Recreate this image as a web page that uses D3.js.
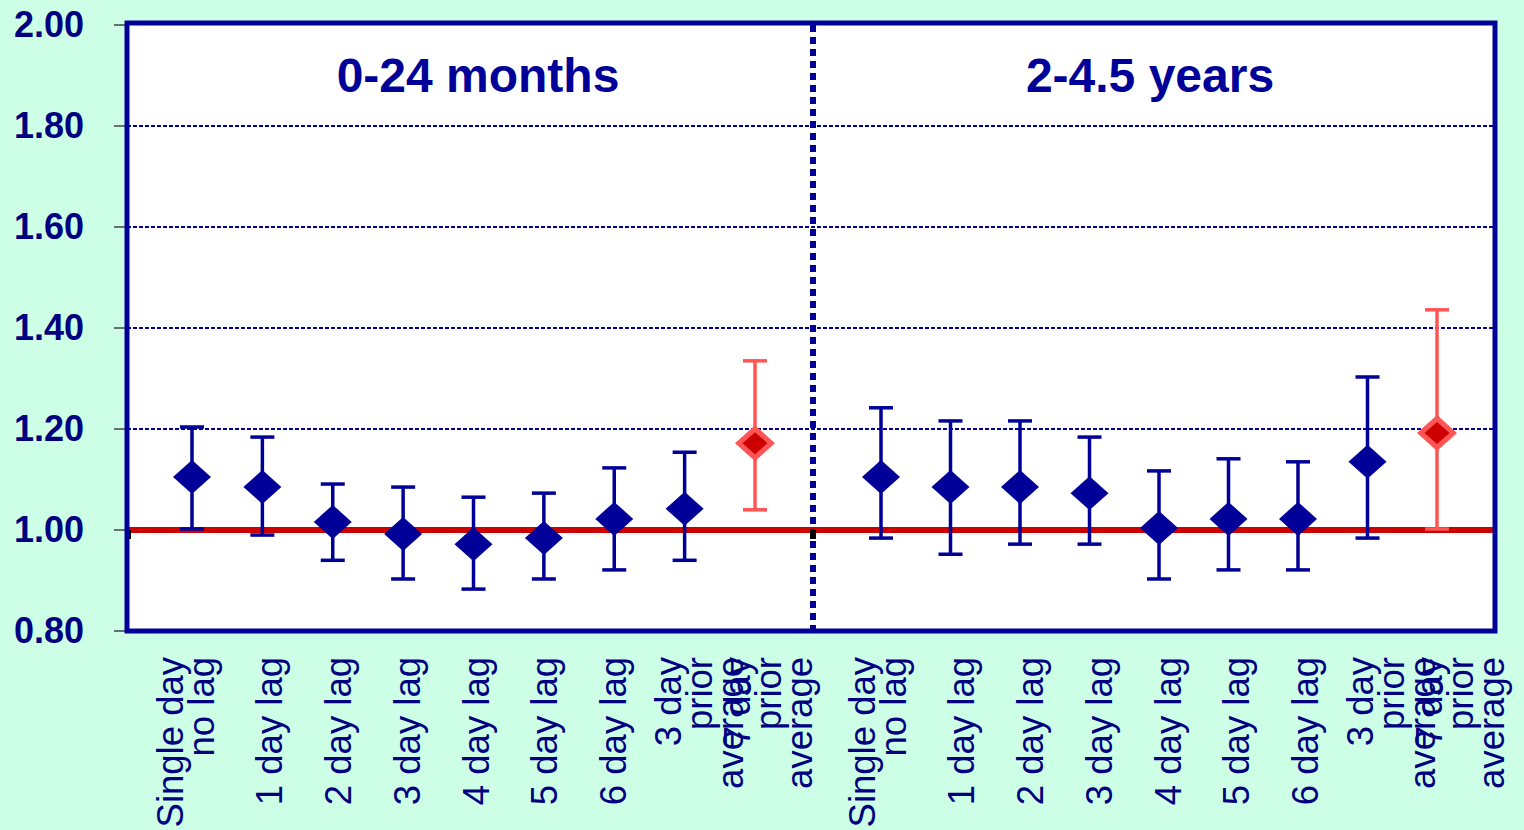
<!DOCTYPE html>
<html lang="en">
<head>
    <meta charset="UTF-8">
    <title>Lag structure - odds ratios</title>
    <script src="https://d3js.org/d3.v7.min.js"></script>
    <style>
        html, body {
            margin: 0;
            padding: 0;
            background: #ccffe5;
            font-family: Arial, "Liberation Sans", sans-serif;
        }
        svg { display: block; }
    </style>
</head>
<body>
<div id="chart"></div>
<script>
// Categories (lines of each x label)
const categories = [
    ["Single day", "no lag"],
    ["1 day lag"],
    ["2 day lag"],
    ["3 day lag"],
    ["4 day lag"],
    ["5 day lag"],
    ["6 day lag"],
    ["3 day", "prior", "average"],
    ["7 day", "prior", "average"]
];
const groups = ["0-24 months", "2-4.5 years"];

// 0-24 months
const estYoung  = [1.105, 1.085, 1.016, 0.992, 0.972, 0.984, 1.022, 1.042, 1.172];
const lowYoung  = [1.002, 0.990, 0.940, 0.903, 0.883, 0.903, 0.921, 0.940, 1.040];
const highYoung = [1.204, 1.184, 1.091, 1.085, 1.065, 1.073, 1.123, 1.154, 1.335];

// 2-4.5 years
const estOld  = [1.105, 1.085, 1.085, 1.073, 1.004, 1.022, 1.022, 1.135, 1.192];
const lowOld  = [0.984, 0.952, 0.972, 0.972, 0.903, 0.921, 0.921, 0.984, 1.002];
const highOld = [1.242, 1.216, 1.216, 1.184, 1.117, 1.141, 1.135, 1.303, 1.436];

const highlight = 8;        // 7 day prior average drawn in red
const yTicks = [0.8, 1.0, 1.2, 1.4, 1.6, 1.8, 2.0];
const refValue = 1.0;

const W = 1524, H = 830;
const navy = "#000099";
const textNavy = "#000080";

const svg = d3.select("#chart")
    .append("svg")
    .attr("width", W)
    .attr("height", H);

const plotLeft = 127, plotRight = 1495, sep = 813;
const y = d3.scaleLinear().domain([0.8, 2.0]).range([631, 25]);
const idx = d3.range(categories.length);

const panels = [
    { title: groups[0], est: estYoung, low: lowYoung, high: highYoung,
      x: d3.scalePoint().domain(idx).range([192, 755]),
      lx: d3.scalePoint().domain(idx).range([196, 746]),
      left: plotLeft, right: sep, tdx: 8 },
    { title: groups[1], est: estOld, low: lowOld, high: highOld,
      x: d3.scalePoint().domain(idx).range([881, 1437]),
      lx: d3.scalePoint().domain(idx).range([888, 1438]),
      left: sep, right: plotRight, tdx: -4 }
];

// plot background
svg.append("rect")
    .attr("x", plotLeft)
    .attr("y", y(2.0))
    .attr("width", plotRight - plotLeft)
    .attr("height", y(0.8) - y(2.0))
    .attr("fill", "#ffffff");

// gridlines
svg.selectAll(".grid")
    .data(yTicks.filter(d => d > 0.8 && d < 2.0 && d !== refValue))
    .enter()
    .append("line")
    .attr("x1", plotLeft)
    .attr("x2", plotRight)
    .attr("y1", d => y(d))
    .attr("y2", d => y(d))
    .attr("stroke", navy)
    .attr("stroke-width", 2)
    .attr("stroke-dasharray", "4,2");

// y axis ticks + labels
svg.selectAll(".ytick")
    .data(yTicks)
    .enter()
    .append("line")
    .attr("x1", 114)
    .attr("x2", plotLeft)
    .attr("y1", d => y(d))
    .attr("y2", d => y(d))
    .attr("stroke", "#444")
    .attr("stroke-width", 1.5);

svg.selectAll(".ylabel")
    .data(yTicks)
    .enter()
    .append("text")
    .attr("x", 84)
    .attr("y", d => y(d) + 12)
    .attr("text-anchor", "end")
    .attr("font-size", "36px")
    .attr("font-weight", "bold")
    .attr("fill", textNavy)
    .text(d3.format(".2f"));

// reference line at 1.00
svg.append("line")
    .attr("x1", plotLeft)
    .attr("x2", plotRight - 2)
    .attr("y1", y(refValue))
    .attr("y2", y(refValue))
    .attr("stroke", "#cc0000")
    .attr("stroke-width", 6);

// separator between age groups
svg.append("line")
    .attr("x1", sep)
    .attr("x2", sep)
    .attr("y1", y(2.0))
    .attr("y2", y(0.8))
    .attr("stroke", navy)
    .attr("stroke-width", 6)
    .attr("stroke-dasharray", "7,5");

// small black markers where the axis crosses
[plotLeft + 1, sep].forEach(xp => {
    svg.append("rect")
        .attr("x", xp - 3)
        .attr("y", y(refValue))
        .attr("width", 6)
        .attr("height", 9)
        .attr("fill", "#000");
});

// plot border
svg.append("rect")
    .attr("x", plotLeft)
    .attr("y", y(2.0) - 2)
    .attr("width", plotRight - plotLeft)
    .attr("height", y(0.8) - y(2.0) + 2)
    .attr("fill", "none")
    .attr("stroke", navy)
    .attr("stroke-width", 5);

const diamond = (cx, cy, hw, hh) =>
    `M${cx},${cy - hh}L${cx + hw},${cy}L${cx},${cy + hh}L${cx - hw},${cy}Z`;

panels.forEach(p => {
    const g = svg.append("g");

    // error bars
    const bars = g.selectAll(".bar")
        .data(idx)
        .enter()
        .append("g")
        .attr("stroke", i => i === highlight ? "#ff5555" : navy)
        .attr("stroke-width", 3.5);

    bars.append("line")
        .attr("x1", i => p.x(i))
        .attr("x2", i => p.x(i))
        .attr("y1", i => y(p.low[i]))
        .attr("y2", i => y(p.high[i]));
    bars.append("line")
        .attr("x1", i => p.x(i) - 12)
        .attr("x2", i => p.x(i) + 12)
        .attr("y1", i => y(p.low[i]))
        .attr("y2", i => y(p.low[i]));
    bars.append("line")
        .attr("x1", i => p.x(i) - 12)
        .attr("x2", i => p.x(i) + 12)
        .attr("y1", i => y(p.high[i]))
        .attr("y2", i => y(p.high[i]));

    // diamonds
    g.selectAll(".pt")
        .data(idx.filter(i => i !== highlight))
        .enter()
        .append("path")
        .attr("d", i => diamond(p.x(i), y(p.est[i]), 19, 17))
        .attr("fill", navy);

    g.append("path")
        .attr("d", diamond(p.x(highlight), y(p.est[highlight]), 20, 18))
        .attr("fill", "#ff5555");
    g.append("path")
        .attr("d", diamond(p.x(highlight), y(p.est[highlight]), 12.5, 11))
        .attr("fill", "#cc0000");

    // panel title
    svg.append("text")
        .attr("x", (p.left + p.right) / 2 + p.tdx)
        .attr("y", 92)
        .attr("text-anchor", "middle")
        .attr("font-size", "48px")
        .attr("font-weight", "bold")
        .attr("fill", navy)
        .text(p.title);

    // rotated x labels
    const labels = svg.selectAll(null)
        .data(idx)
        .enter()
        .append("g")
        .attr("transform", i => `translate(${p.lx(i)},657) rotate(-90)`);

    labels.each(function (i) {
        const lines = categories[i];
        const shift = lines.length === 2 ? 31 : lines.length === 3 ? 14 : 0;
        d3.select(this).selectAll("text")
            .data(lines)
            .enter()
            .append("text")
            .attr("x", 0)
            .attr("y", (d, k) => 17.5 - shift + k * 31)
            .attr("text-anchor", "end")
            .attr("font-size", "36.5px")
            .attr("fill", textNavy)
            .text(d => d);
    });
});
</script>
</body>
</html>
